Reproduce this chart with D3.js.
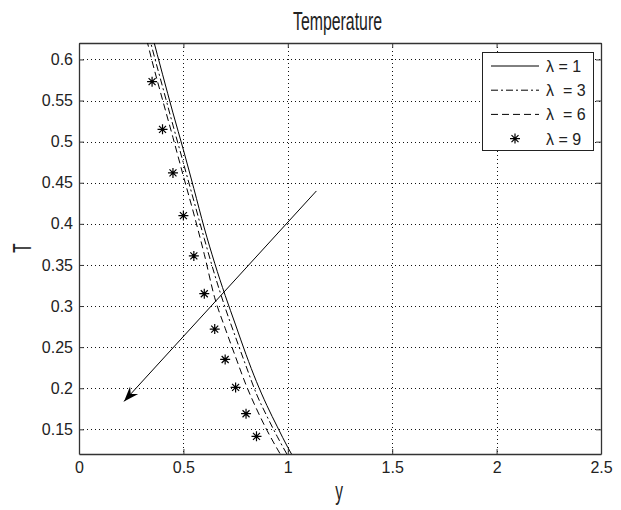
<!DOCTYPE html>
<html>
<head>
<meta charset="utf-8">
<script src="https://cdn.jsdelivr.net/npm/d3@7"></script>
<style>
  body { margin: 0; background: #fff; }
  svg { display: block; }
  text { font-family: "Liberation Sans", Arial, sans-serif; fill: #222; }
</style>
</head>
<body>
<div id="chart"></div>
<script>
// data
const xTicks = [0, 0.5, 1, 1.5, 2, 2.5];
const xTickLabels = ['0', '0.5', '1', '1.5', '2', '2.5'];
const yTicks = [0.15, 0.2, 0.25, 0.3, 0.35, 0.4, 0.45, 0.5, 0.55, 0.6];
const yTickLabels = ['0.15', '0.2', '0.25', '0.3', '0.35', '0.4', '0.45', '0.5', '0.55', '0.6'];

const lineX = [0.3, 0.35, 0.4, 0.45, 0.5, 0.55, 0.6, 0.65, 0.7, 0.75, 0.8, 0.85, 0.9, 0.95, 1.0, 1.05];
const lambda1 = [0.68, 0.63, 0.582, 0.535, 0.49, 0.443, 0.395, 0.352, 0.313, 0.277, 0.241, 0.208, 0.179, 0.153, 0.128, 0.106];
const lambda3 = [0.665, 0.614, 0.567, 0.52, 0.474, 0.428, 0.382, 0.338, 0.298, 0.262, 0.227, 0.193, 0.166, 0.141, 0.118, 0.097];
const lambda6 = [0.65, 0.598, 0.551, 0.505, 0.458, 0.412, 0.363, 0.31, 0.273, 0.238, 0.204, 0.175, 0.149, 0.126, 0.105, 0.088];

const starX = [0.35, 0.4, 0.45, 0.5, 0.55, 0.6, 0.65, 0.7, 0.75, 0.8, 0.85];
const lambda9 = [0.573, 0.515, 0.462, 0.41, 0.361, 0.315, 0.272, 0.235, 0.201, 0.169, 0.1415];

const legendLabels = ['λ = 1', 'λ  = 3', 'λ  = 6', 'λ = 9'];

// arrow annotation (data coords)
const arrowFrom = [1.137, 0.44];
const arrowTo = [0.2155, 0.184];

const W = 621, H = 510;
const plot = { left: 79, top: 43, right: 601, bottom: 454 };

const svg = d3.select('#chart').append('svg')
  .attr('width', W)
  .attr('height', H);

const x = d3.scaleLinear().domain([0, 2.5]).range([plot.left, plot.right]);
const y = d3.scaleLinear().domain([0.12, 0.62]).range([plot.bottom, plot.top]);

svg.append('defs').append('clipPath')
  .attr('id', 'clip')
  .append('rect')
  .attr('x', plot.left)
  .attr('y', plot.top)
  .attr('width', plot.right - plot.left)
  .attr('height', plot.bottom - plot.top);

// dotted grid
const grid = svg.append('g')
  .attr('stroke', '#111')
  .attr('stroke-width', 1)
  .attr('stroke-dasharray', '1,3');
grid.selectAll('.gx')
  .data(xTicks.slice(1, -1))
  .join('line')
  .attr('x1', d => Math.round(x(d)) + 0.5)
  .attr('x2', d => Math.round(x(d)) + 0.5)
  .attr('y1', plot.top)
  .attr('y2', plot.bottom);
grid.selectAll('.gy')
  .data(yTicks)
  .join('line')
  .attr('y1', d => Math.round(y(d)) + 0.5)
  .attr('y2', d => Math.round(y(d)) + 0.5)
  .attr('x1', plot.left)
  .attr('x2', plot.right);

// axes, ticks pointing inward on all four sides
const fmtX = (d, i) => xTickLabels[i];
const fmtY = (d, i) => yTickLabels[i];

const axB = svg.append('g')
  .attr('transform', `translate(0,${plot.bottom})`)
  .call(d3.axisBottom(x).tickValues(xTicks).tickFormat(fmtX).tickSizeInner(-5).tickSizeOuter(0).tickPadding(8));
const axL = svg.append('g')
  .attr('transform', `translate(${plot.left},0)`)
  .call(d3.axisLeft(y).tickValues(yTicks).tickFormat(fmtY).tickSizeInner(-5).tickSizeOuter(0).tickPadding(6));
const axT = svg.append('g')
  .attr('transform', `translate(0,${plot.top})`)
  .call(d3.axisTop(x).tickValues(xTicks).tickFormat('').tickSizeInner(-5).tickSizeOuter(0));
const axR = svg.append('g')
  .attr('transform', `translate(${plot.right},0)`)
  .call(d3.axisRight(y).tickValues(yTicks).tickFormat('').tickSizeInner(-5).tickSizeOuter(0));

[axB, axL, axT, axR].forEach(a => {
  a.selectAll('path.domain').attr('stroke', '#333').attr('stroke-width', 1.3);
  a.selectAll('line').attr('stroke', '#333');
  a.selectAll('text').style('font-size', '16px').attr('fill', '#222');
});

// curves
const lineGen = d3.line()
  .x(d => x(d[0]))
  .y(d => y(d[1]))
  .curve(d3.curveMonotoneX);

const series = [
  { vals: lambda1, dash: null },
  { vals: lambda3, dash: '7,3,2,3' },
  { vals: lambda6, dash: '7,4' }
];

const curves = svg.append('g').attr('clip-path', 'url(#clip)');
series.forEach(s => {
  curves.append('path')
    .datum(lineX.map((v, i) => [v, s.vals[i]]))
    .attr('d', lineGen)
    .attr('fill', 'none')
    .attr('stroke', '#000')
    .attr('stroke-width', 1)
    .attr('stroke-dasharray', s.dash);
});

const starPath = 'M-5,0H5M0,-5V5M-3.5,-3.5L3.5,3.5M-3.5,3.5L3.5,-3.5';
curves.selectAll('.star')
  .data(starX.map((v, i) => [v, lambda9[i]]))
  .join('path')
  .attr('class', 'star')
  .attr('transform', d => `translate(${x(d[0])},${y(d[1])})`)
  .attr('d', starPath)
  .attr('fill', 'none')
  .attr('stroke', '#000')
  .attr('stroke-width', 1.2);

// arrow
const ax1 = x(arrowFrom[0]), ay1 = y(arrowFrom[1]);
const ax2 = x(arrowTo[0]), ay2 = y(arrowTo[1]);
const ang = Math.atan2(ay2 - ay1, ax2 - ax1) * 180 / Math.PI;
svg.append('line')
  .attr('x1', ax1).attr('y1', ay1)
  .attr('x2', ax2).attr('y2', ay2)
  .attr('stroke', '#000')
  .attr('stroke-width', 1);
svg.append('path')
  .attr('transform', `translate(${ax2},${ay2}) rotate(${ang})`)
  .attr('d', 'M0,0L-15,-5.5L-10,0L-15,5.5Z')
  .attr('fill', '#000');

// legend
const leg = svg.append('g');
leg.append('rect')
  .attr('x', 482.5).attr('y', 52.5)
  .attr('width', 111).attr('height', 98)
  .attr('fill', '#fff')
  .attr('stroke', '#222')
  .attr('stroke-width', 1);

const rowY = i => 66 + i * 24.2;
series.forEach((s, i) => {
  leg.append('line')
    .attr('x1', 491).attr('x2', 539)
    .attr('y1', rowY(i)).attr('y2', rowY(i))
    .attr('stroke', '#000')
    .attr('stroke-width', 1)
    .attr('stroke-dasharray', s.dash);
});
leg.append('path')
  .attr('transform', `translate(515,${rowY(3)})`)
  .attr('d', starPath)
  .attr('fill', 'none')
  .attr('stroke', '#000')
  .attr('stroke-width', 1.2);

leg.selectAll('.lt')
  .data(legendLabels)
  .join('text')
  .attr('x', 546)
  .attr('y', (d, i) => rowY(i) + 6)
  .style('font-size', '16px')
  .style('white-space', 'pre')
  .text(d => d);

// title and axis labels (narrow font look)
svg.append('text')
  .attr('x', 293).attr('y', 30)
  .attr('textLength', 89)
  .attr('lengthAdjust', 'spacingAndGlyphs')
  .style('font-size', '25px')
  .text('Temperature');

svg.append('text')
  .attr('transform', 'translate(339,500) scale(0.62,1)')
  .attr('text-anchor', 'middle')
  .style('font-size', '25px')
  .text('y');

svg.append('text')
  .attr('transform', 'translate(31,248) rotate(-90) scale(0.62,1)')
  .attr('text-anchor', 'middle')
  .style('font-size', '25px')
  .text('T');
</script>
</body>
</html>
